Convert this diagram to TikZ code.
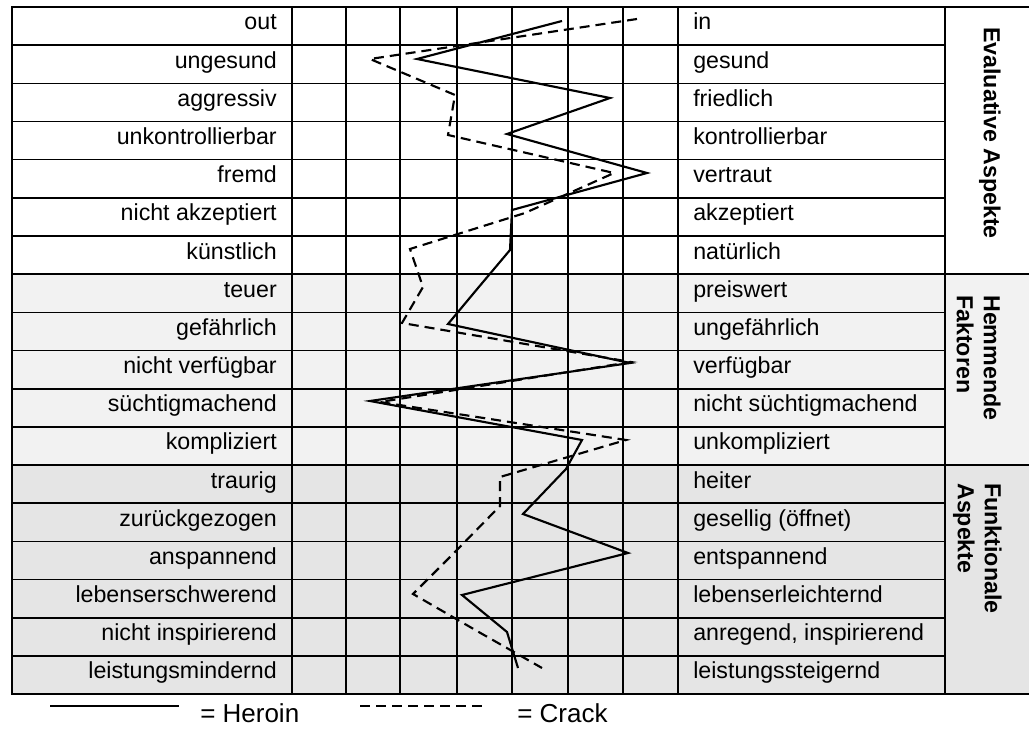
\documentclass[tikz,border=0pt]{standalone}
\usepackage{fontspec}
\setmainfont{Liberation Sans}

\definecolor{hemmgray}{HTML}{F2F2F2}
\definecolor{funkgray}{HTML}{E5E5E5}

\tikzset{
    gridline/.style={line width=1.2pt},
    frameline/.style={line width=1.6pt},
    heroin/.style={line width=1.6pt},
    crack/.style={line width=1.6pt, dash pattern=on 7.5pt off 4.5pt},
    leftlabel/.style={anchor=base east, inner sep=0pt, font=\fontsize{17.4}{20}\selectfont},
    rightlabel/.style={anchor=base west, inner sep=0pt, font=\fontsize{17.4}{20}\selectfont},
    grouplabel/.style={rotate=-90, anchor=north west, align=left, inner sep=0pt,
        font=\bfseries\fontsize{17.4}{20.3}\selectfont},
    legendtext/.style={anchor=base west, inner sep=0pt, font=\fontsize{19.5}{22}\selectfont}
}

\begin{document}
\begin{tikzpicture}[x=0.75pt, y=-0.75pt]
\useasboundingbox (0,0) rectangle (1029,731);
% Shade the rows of the two lower groups first, so that the
% grid lines are drawn on top of them.
\fill[hemmgray] (12,274.2) rectangle (1029,465.0);
\fill[funkgray] (12,465.0) rectangle (1029,694.1);

% Row lines of the table (18 rows, 38.17 high each)
\foreach \k in {1,...,17}
    \draw[gridline] (12,{7+38.17*\k}) -- (945,{7+38.17*\k});
% The group column is only split between the groups
\foreach \k in {7,12}
    \draw[gridline] (945,{7+38.17*\k}) -- (1029,{7+38.17*\k});
% Column lines: label column, seven scale steps, label column
\foreach \x in {292,346,400,457,512,568,623,678,945}
    \draw[gridline] (\x,7) -- (\x,694.1);
% Outer frame (runs out at the right edge)
\draw[frameline] (1029,7) -- (12,7) -- (12,694.1) -- (1029,694.1);

% The word pairs: negative pole on the left, positive on the right
\foreach \i/\lword/\rword in {
    1/out/in,
    2/ungesund/gesund,
    3/aggressiv/friedlich,
    4/unkontrollierbar/kontrollierbar,
    5/fremd/vertraut,
    6/nicht akzeptiert/akzeptiert,
    7/künstlich/natürlich,
    8/teuer/preiswert,
    9/gefährlich/ungefährlich,
    10/nicht verfügbar/verfügbar,
    11/süchtigmachend/nicht süchtigmachend,
    12/kompliziert/unkompliziert,
    13/traurig/heiter,
    14/zurückgezogen/gesellig (öffnet),
    15/anspannend/entspannend,
    16/lebenserschwerend/lebenserleichternd,
    17/nicht inspirierend/{anregend, inspirierend},
    18/leistungsmindernd/leistungssteigernd}{
    \node[leftlabel] (l\i) at (277,{7+38.17*(\i-1)+23}) {\lword};
    \node[rightlabel] (r\i) at (693,{7+38.17*(\i-1)+23}) {\rword};
}

% Names of the three groups, written top to bottom
\node[grouplabel] (eval) at (1001,27) {Evaluative Aspekte};
\node[grouplabel] (hemm) at (1001,295) {Hemmende\\Faktoren};
\node[grouplabel] (funk) at (1002,483) {Funktionale\\Aspekte};

% Profile points for heroin (h) and crack (c), one per row
\foreach \i/\x/\y in {1/562/21, 2/417/59, 3/610/98, 4/507/134,
    5/647/173, 6/512/210, 7/510/250, 8/478/288, 9/448/324,
    10/630/363, 11/370/401, 12/582/440, 13/566/469, 14/523/514,
    15/628/553, 16/462/595, 17/507/632, 18/518/668}
    \coordinate (h\i) at (\x,\y);
\foreach \i/\x/\y in {1/637/19, 2/370/59, 3/455/95, 4/448/135,
    5/614/173, 6/525/213, 7/410/249, 8/423/287, 9/402/323,
    10/631/362, 11/380/402, 12/626/440, 13/500/477, 14/500/506,
    15/454/553, 16/413/594, 17/477/631, 18/542/668}
    \coordinate (c\i) at (\x,\y);

% Join the points of each profile
\draw[heroin] (h1) \foreach \i in {2,...,18} {-- (h\i)};
\draw[crack] (c1) \foreach \i in {2,...,18} {-- (c\i)};

% Legend below the table
\coordinate (hs) at (50,706);
\coordinate (he) at (179,706);
\draw[heroin] (hs) -- (he);
\node[legendtext] (hlab) at (200,722) {= Heroin};
\coordinate (cs) at (360,706);
\coordinate (ce) at (483,706);
\draw[crack] (cs) -- (ce);
\node[legendtext] (clab) at (517,722) {= Crack};
\end{tikzpicture}
\end{document}
